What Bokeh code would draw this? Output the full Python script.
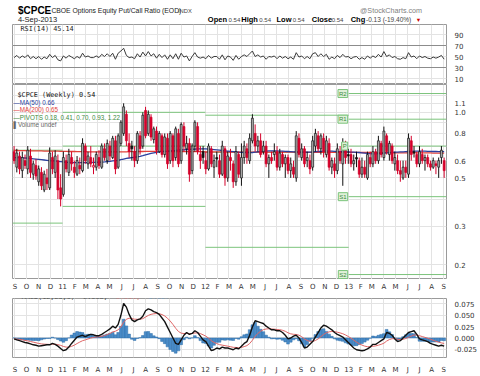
import math
import numpy as np
import pandas as pd
from bokeh.plotting import figure
from bokeh.layouts import column
from bokeh.models import (ColumnDataSource, Range1d, FixedTicker, Label, Span,
                          NumeralTickFormatter, LinearAxis)
from bokeh.embed import file_html
from bokeh.resources import INLINE

# ---------------- data (weekly) ----------------
first_week = "2010-08-30"

opens = [0.66, 0.56, 0.63, 0.54, 0.60, 0.55, 0.63, 0.52, 0.57, 0.48,
         0.53, 0.44, 0.50, 0.45, 0.62, 0.53, 0.60, 0.45, 0.42, 0.60,
         0.53, 0.62, 0.56, 0.52, 0.57, 0.54, 0.70, 0.58, 0.62, 0.56,
         0.56, 0.62, 0.56, 0.68, 0.60, 0.70, 0.62, 0.74, 0.56, 0.72,
         0.80, 0.98, 0.72, 0.70, 0.66, 0.60, 0.78, 0.70, 1.02, 0.80,
         0.95, 0.75, 0.82, 0.66, 0.78, 0.64, 0.76, 0.60, 0.78, 0.62,
         0.80, 0.60, 0.86, 0.68, 0.72, 0.54, 0.70, 0.86, 0.64, 0.66,
         0.60, 0.55, 0.68, 0.56, 0.62, 0.60, 0.52, 0.68, 0.50, 0.62,
         0.58, 0.48, 0.64, 0.50, 0.62, 0.68, 0.60, 0.74, 0.80, 0.70,
         0.74, 0.66, 0.70, 0.58, 0.62, 0.64, 0.66, 0.56, 0.64, 0.58,
         0.62, 0.54, 0.56, 0.50, 0.76, 0.62, 0.68, 0.60, 0.60, 0.56,
         0.70, 0.78, 0.68, 0.76, 0.64, 0.72, 0.56, 0.58, 0.54, 0.66,
         0.58, 0.70, 0.64, 0.64, 0.58, 0.62, 0.60, 0.52, 0.56, 0.50,
         0.62, 0.58, 0.66, 0.60, 0.72, 0.62, 0.78, 0.64, 0.70, 0.58,
         0.60, 0.54, 0.50, 0.56, 0.52, 0.74, 0.66, 0.64, 0.58, 0.64,
         0.60, 0.62, 0.58, 0.56, 0.58, 0.56, 0.62, 0.60]

highs = [0.70, 0.68, 0.66, 0.66, 0.64, 0.70, 0.68, 0.60, 0.61, 0.57,
         0.56, 0.54, 0.55, 0.69, 0.66, 0.67, 0.64, 0.52, 0.66, 0.64,
         0.68, 0.66, 0.60, 0.63, 0.62, 0.76, 0.72, 0.66, 0.70, 0.62,
         0.66, 0.67, 0.72, 0.72, 0.75, 0.74, 0.78, 0.78, 0.80, 0.92,
         1.10, 1.02, 0.80, 0.74, 0.70, 0.82, 0.82, 1.00, 1.06, 1.02,
         0.98, 0.86, 0.86, 0.82, 0.80, 0.80, 0.80, 0.82, 0.80, 0.86,
         0.84, 0.90, 0.90, 0.78, 0.76, 0.72, 0.92, 0.90, 0.70, 0.70,
         0.66, 0.72, 0.70, 0.64, 0.66, 0.64, 0.74, 0.70, 0.66, 0.68,
         0.60, 0.70, 0.66, 0.72, 0.74, 0.72, 0.80, 0.98, 0.88, 0.78,
         0.80, 0.74, 0.74, 0.64, 0.66, 0.72, 0.70, 0.68, 0.66, 0.64,
         0.64, 0.62, 0.60, 0.82, 0.80, 0.72, 0.70, 0.66, 0.64, 0.78,
         0.84, 0.82, 0.80, 0.80, 0.78, 0.76, 0.62, 0.62, 0.72, 0.70,
         0.76, 0.74, 0.68, 0.68, 0.64, 0.66, 0.62, 0.62, 0.60, 0.66,
         0.66, 0.70, 0.68, 0.78, 0.74, 0.86, 0.80, 0.74, 0.72, 0.66,
         0.64, 0.60, 0.60, 0.60, 0.80, 0.78, 0.70, 0.66, 0.70, 0.68,
         0.64, 0.64, 0.60, 0.62, 0.60, 0.62, 0.70, 0.62]

lows = [0.58, 0.53, 0.52, 0.50, 0.55, 0.52, 0.50, 0.49, 0.49, 0.46,
        0.44, 0.43, 0.44, 0.44, 0.52, 0.50, 0.40, 0.37, 0.41, 0.53,
        0.51, 0.54, 0.50, 0.51, 0.52, 0.53, 0.58, 0.55, 0.56, 0.52,
        0.54, 0.55, 0.55, 0.60, 0.58, 0.60, 0.61, 0.52, 0.55, 0.70,
        0.78, 0.70, 0.62, 0.60, 0.56, 0.58, 0.64, 0.68, 0.76, 0.78,
        0.74, 0.72, 0.64, 0.65, 0.62, 0.62, 0.55, 0.58, 0.56, 0.60,
        0.56, 0.58, 0.66, 0.64, 0.48, 0.52, 0.66, 0.64, 0.55, 0.58,
        0.52, 0.54, 0.56, 0.50, 0.56, 0.50, 0.51, 0.46, 0.48, 0.54,
        0.45, 0.46, 0.50, 0.46, 0.58, 0.58, 0.58, 0.72, 0.66, 0.66,
        0.62, 0.64, 0.56, 0.50, 0.58, 0.60, 0.54, 0.54, 0.56, 0.50,
        0.52, 0.50, 0.50, 0.48, 0.62, 0.60, 0.56, 0.56, 0.52, 0.54,
        0.66, 0.66, 0.64, 0.62, 0.62, 0.54, 0.52, 0.50, 0.52, 0.58,
        0.46, 0.58, 0.58, 0.56, 0.54, 0.56, 0.50, 0.50, 0.50, 0.49,
        0.56, 0.56, 0.58, 0.58, 0.62, 0.60, 0.64, 0.60, 0.58, 0.54,
        0.52, 0.48, 0.49, 0.50, 0.50, 0.60, 0.62, 0.56, 0.56, 0.58,
        0.54, 0.56, 0.54, 0.55, 0.52, 0.50, 0.58, 0.50]

closes = [0.60, 0.65, 0.55, 0.62, 0.57, 0.67, 0.53, 0.58, 0.51, 0.55,
          0.46, 0.52, 0.47, 0.65, 0.55, 0.63, 0.44, 0.40, 0.62, 0.55,
          0.64, 0.58, 0.53, 0.60, 0.55, 0.72, 0.60, 0.63, 0.58, 0.57,
          0.64, 0.57, 0.70, 0.62, 0.72, 0.63, 0.76, 0.55, 0.78, 0.90,
          1.06, 0.74, 0.66, 0.68, 0.60, 0.80, 0.68, 0.97, 0.78, 0.98,
          0.77, 0.84, 0.67, 0.80, 0.64, 0.77, 0.58, 0.80, 0.60, 0.84,
          0.58, 0.88, 0.70, 0.72, 0.52, 0.70, 0.90, 0.66, 0.60, 0.62,
          0.55, 0.70, 0.58, 0.60, 0.61, 0.52, 0.70, 0.50, 0.63, 0.60,
          0.48, 0.66, 0.52, 0.62, 0.70, 0.62, 0.76, 0.94, 0.70, 0.74,
          0.64, 0.70, 0.58, 0.62, 0.60, 0.66, 0.56, 0.65, 0.58, 0.62,
          0.54, 0.58, 0.52, 0.78, 0.64, 0.68, 0.58, 0.62, 0.55, 0.74,
          0.80, 0.68, 0.78, 0.66, 0.74, 0.56, 0.60, 0.54, 0.68, 0.60,
          0.72, 0.62, 0.63, 0.58, 0.60, 0.61, 0.52, 0.56, 0.52, 0.64,
          0.58, 0.66, 0.60, 0.74, 0.64, 0.82, 0.66, 0.72, 0.60, 0.62,
          0.54, 0.52, 0.56, 0.53, 0.76, 0.64, 0.65, 0.58, 0.66, 0.60,
          0.62, 0.58, 0.56, 0.60, 0.57, 0.60, 0.67, 0.54]

ma50 = [0.620, 0.620, 0.619, 0.618, 0.617, 0.616, 0.614, 0.612, 0.610, 0.608,
        0.606, 0.604, 0.602, 0.600, 0.599, 0.598, 0.596, 0.594,
        0.592, 0.590, 0.589, 0.588, 0.588, 0.587, 0.587, 0.587, 0.588, 0.588,
        0.589, 0.589, 0.590, 0.590, 0.591, 0.592, 0.594, 0.596, 0.598, 0.600,
        0.602, 0.606,
        0.610, 0.614, 0.617, 0.620, 0.622, 0.625, 0.628, 0.632, 0.638, 0.643,
        0.648, 0.652, 0.655, 0.658, 0.660, 0.662, 0.663, 0.665, 0.667, 0.668,
        0.670, 0.672, 0.673, 0.675, 0.676, 0.677, 0.678, 0.679, 0.680, 0.680,
        0.679, 0.678, 0.676, 0.674, 0.672, 0.670, 0.668, 0.666, 0.664, 0.662,
        0.660, 0.658, 0.656, 0.655, 0.654, 0.653, 0.653, 0.654, 0.656, 0.658,
        0.660, 0.662, 0.664, 0.665, 0.666, 0.666, 0.665, 0.664, 0.663, 0.662,
        0.661, 0.660, 0.659, 0.658, 0.657, 0.656, 0.656, 0.656, 0.657, 0.658,
        0.660, 0.661, 0.662, 0.663, 0.664, 0.664, 0.663, 0.662, 0.661, 0.660,
        0.660, 0.659, 0.658,
        0.657, 0.656, 0.655, 0.654, 0.652, 0.650, 0.648, 0.646, 0.645, 0.645,
        0.646, 0.647, 0.649, 0.651, 0.653, 0.655, 0.656, 0.657, 0.658, 0.659,
        0.660, 0.661, 0.662, 0.663, 0.664, 0.664, 0.664, 0.663, 0.662, 0.662,
        0.661, 0.661, 0.660, 0.660, 0.660]

ma200 = [0.668, 0.668, 0.667, 0.667, 0.667, 0.666, 0.666, 0.666, 0.665, 0.665,
         0.665, 0.664, 0.664, 0.664, 0.663, 0.663, 0.663, 0.662, 0.662, 0.662,
         0.661, 0.661, 0.661, 0.660, 0.660, 0.660, 0.660, 0.659, 0.659, 0.659,
         0.659, 0.658, 0.658, 0.658, 0.658, 0.658, 0.658, 0.658, 0.658, 0.658,
         0.659, 0.659, 0.660, 0.660, 0.660, 0.661, 0.661, 0.661, 0.662, 0.662,
         0.662, 0.662, 0.662, 0.662, 0.662, 0.662, 0.662, 0.661, 0.661, 0.661,
         0.661, 0.661, 0.660, 0.660, 0.660, 0.660, 0.660, 0.660, 0.660, 0.660,
         0.659, 0.659, 0.659, 0.659, 0.658, 0.658, 0.658, 0.658, 0.658, 0.657,
         0.657, 0.657, 0.657, 0.657, 0.657, 0.657, 0.657, 0.657, 0.657, 0.657,
         0.657, 0.657, 0.657, 0.657, 0.657, 0.657, 0.656, 0.656, 0.656, 0.656,
         0.656, 0.656, 0.656, 0.656, 0.656, 0.656, 0.656, 0.655, 0.655, 0.655,
         0.655, 0.655, 0.655, 0.655, 0.655, 0.655, 0.655, 0.655, 0.655, 0.655,
         0.655, 0.655, 0.655, 0.655, 0.655, 0.655, 0.654, 0.654, 0.654, 0.654,
         0.654, 0.653, 0.653, 0.653, 0.653, 0.653, 0.653, 0.653, 0.652, 0.652,
         0.652, 0.652, 0.652, 0.652, 0.652, 0.651, 0.651, 0.651, 0.651, 0.651,
         0.651, 0.651, 0.651, 0.650, 0.650, 0.650, 0.650, 0.650]

rsi14 = [48, 52, 47, 51, 48, 53, 46, 50, 46, 50,
         45, 49, 46, 54, 48, 52, 44, 42, 51, 47,
         52, 49, 46, 50, 47, 56, 49, 51, 48, 48,
         51, 48, 54, 50, 55, 50, 56, 45, 56, 60,
         65, 52, 48, 49, 46, 55, 49, 58, 51, 59,
         51, 55, 47, 54, 48, 53, 45, 53, 46, 55,
         45, 56, 49, 51, 42, 50, 57, 49, 47, 49,
         46, 52, 47, 50, 50, 45, 53, 44, 51, 49,
         43, 52, 45, 50, 53, 50, 55, 60, 50, 53,
         49, 51, 45, 50, 49, 51, 46, 51, 47, 50,
         46, 49, 45, 57, 49, 51, 46, 50, 46, 55,
         57, 50, 55, 50, 54, 45, 49, 46, 52, 48,
         54, 49, 50, 46, 49, 50, 45, 48, 45, 51,
         47, 51, 48, 54, 49, 59, 50, 53, 48, 50,
         46, 45, 48, 46, 57, 49, 51, 46, 51, 48,
         50, 47, 46, 49, 47, 49, 52, 45.14]

macd_line = [-0.002, -0.004, -0.006, -0.008, -0.010, -0.011, -0.013, -0.015, -0.016, -0.018,
             -0.017, -0.016, -0.015, -0.015, -0.012, -0.014, -0.018, -0.023, -0.028, -0.026,
             -0.020, -0.012, -0.005, 0.002, 0.004, 0.006, 0.003, 0.006, 0.008, 0.007,
             0.005, 0.005, 0.008, 0.012, 0.016, 0.020, 0.026, 0.022, 0.030, 0.050,
             0.076, 0.068, 0.052, 0.040, 0.036, 0.040, 0.042, 0.048, 0.060, 0.064,
             0.062, 0.058, 0.056, 0.052, 0.044, 0.036, 0.024, 0.012, 0.000, -0.012,
             -0.014, -0.004, 0.006, 0.012, 0.008, 0.010, 0.016, 0.012, 0.004, -0.004,
             -0.008, -0.018, -0.028, -0.026, -0.022, -0.024, -0.020, -0.022, -0.022, -0.024,
             -0.026, -0.022, -0.024, -0.018, -0.012, -0.008, 0.006, 0.024, 0.038, 0.036,
             0.034, 0.032, 0.026, 0.022, 0.018, 0.018, 0.016, 0.016, 0.012, 0.006,
             -0.002, 0.000, 0.004, 0.006, 0.000, -0.010, -0.022, -0.020, -0.014, -0.008,
             0.002, 0.012, 0.022, 0.028, 0.026, 0.022, 0.018, 0.012, 0.008, 0.005,
             0.002, -0.004, -0.010, -0.016, -0.022, -0.026, -0.027, -0.028, -0.027, -0.024,
             -0.020, -0.014, -0.014, -0.010, -0.006, -0.002, 0.012, 0.010, 0.006, -0.002,
             -0.008, -0.006, 0.000, 0.006, 0.012, 0.014, 0.016, 0.008, -0.002, -0.004,
             -0.006, -0.008, -0.012, -0.014, -0.016, -0.018, -0.016, -0.018]

signal_period = 9

month_labels = ["S", "O", "N", "D", "11", "F", "M", "A", "M", "J", "J", "A",
                "S", "O", "N", "D", "12", "F", "M", "A", "M", "J", "J", "A",
                "S", "O", "N", "D", "13", "F", "M", "A", "M", "J", "J", "A", "S"]
first_month = "2010-09-01"

nan = float("nan")
pivot_starts = ["2010-08-26", "2011-01-01", "2012-01-01", "2013-01-01"]
pivot_ends = ["2011-01-01", "2012-01-01", "2013-01-01", "2013-09-08"]
pivot_r2 = [nan, nan, nan, 1.22]
pivot_r1 = [nan, 1.00, 0.97, 0.93]
pivot_p = [0.67, 0.70, 0.655, 0.70]
pivot_s1 = [0.31, 0.37, 0.24, 0.41]
pivot_s2 = [nan, nan, nan, 0.18]

rsi_ticks = [10, 30, 50, 70, 90]
price_ticks = [0.2, 0.3, 0.5, 0.6, 0.8, 1.0, 1.1]
price_grid = [0.2, 0.3, 0.4, 0.5, 0.6, 0.7, 0.8, 0.9, 1.0, 1.1, 1.2]
macd_ticks = [-0.025, 0.0, 0.025, 0.050, 0.075]

# ---------------- checks ----------------
n = len(closes)
for nm, arr in [("opens", opens), ("highs", highs), ("lows", lows), ("ma50", ma50),
                ("ma200", ma200), ("rsi14", rsi14), ("macd_line", macd_line)]:
    if len(arr) != n:
        raise ValueError(f"{nm} has {len(arr)} values, expected {n}")

def ms(s):
    return pd.Timestamp(s).timestamp() * 1000.0

DAY = 86400000.0
dates = pd.date_range(first_week, periods=n, freq="W-MON")
xs = [d.timestamp() * 1000.0 for d in dates]
month_ticks = [d.timestamp() * 1000.0 for d in pd.date_range(first_month, periods=len(month_labels), freq="MS")]
x_start, x_end = ms("2010-08-26"), ms("2013-09-08")
year_ticks = [t for t, lab in zip(month_ticks, month_labels) if len(lab) == 2]
year_labels = [lab for lab in month_labels if len(lab) == 2]

# candle colouring (close vs previous close, hollow when close > open)
prev = [opens[0]] + closes[:-1]
fills, lines = [], []
for o, c, pc in zip(opens, closes, prev):
    if c >= pc:
        lines.append("#111111")
        fills.append("#b3b3b3" if c > o else "#111111")
    else:
        lines.append("#d4002a")
        fills.append("#f2a2b4" if c > o else "#d4002a")

candles = ColumnDataSource(dict(
    x=xs, high=highs, low=lows,
    top=[max(o, c) for o, c in zip(opens, closes)],
    bottom=[min(o, c) for o, c in zip(opens, closes)],
    fill=fills, line=lines, ma50=ma50, ma200=ma200, rsi=rsi14))

# MACD signal (9-period EMA of MACD) and histogram
alpha = 2.0 / (signal_period + 1)
signal = []
for i, m in enumerate(macd_line):
    signal.append(m if i == 0 else alpha * m + (1 - alpha) * signal[-1])
hist = [m - s for m, s in zip(macd_line, signal)]
macd_src = ColumnDataSource(dict(x=xs, macd=macd_line, signal=signal, hist=hist))

# ---------------- layout constants ----------------
W = 480
FONT = "Liberation Sans"
MONO = "DejaVu Sans Mono"
GRID = "#e3e3e3"
OUTLINE = "#9a9a9a"
LABEL_OVERRIDES = {t: lab for t, lab in zip(month_ticks, month_labels)}

def style_axis(ax):
    ax.axis_line_color = None
    ax.major_tick_line_color = None
    ax.minor_tick_line_color = None
    ax.major_label_text_font_size = "7px"
    ax.major_label_text_font = "DejaVu Sans"
    ax.major_label_text_color = "#333333"
    ax.major_label_standoff = 2

def style_xaxis(ax):
    style_axis(ax)
    ax.ticker = FixedTicker(ticks=month_ticks)
    ax.major_label_overrides = LABEL_OVERRIDES

def base_fig(height, y_range, y_type="linear", xloc=None, top=0, bottom=0):
    p = figure(width=W, height=height, x_range=Range1d(x_start, x_end), y_range=y_range,
               y_axis_type=y_type, y_axis_location="right", x_axis_location=xloc,
               toolbar_location=None, output_backend="svg",
               min_border_left=12, min_border_right=32, min_border_top=top,
               min_border_bottom=bottom, background_fill_color="white",
               border_fill_color="white", outline_line_color=OUTLINE)
    for ax in p.yaxis:
        style_axis(ax)
    for ax in p.xaxis:
        style_xaxis(ax)
    p.xgrid.ticker = FixedTicker(ticks=month_ticks)
    p.xgrid.grid_line_color = GRID
    p.ygrid.grid_line_color = GRID
    return p

def tag(p, y, text, color, fill="white", bold=False):
    p.add_layout(Label(x=x_end, y=y, x_offset=3, text=text, text_font=FONT,
                       text_font_size="7px", text_color=color, text_baseline="middle",
                       text_font_style="bold" if bold else "normal",
                       background_fill_color=fill, border_line_color=color,
                       border_line_width=1, padding=1))

def slabel(p, x, y, text, color="#222222", font=FONT, size="7px", style="normal", align="left"):
    p.add_layout(Label(x=x, y=y, x_units="screen", y_units="screen", text=text,
                       text_font=font, text_font_size=size, text_color=color,
                       text_font_style=style, text_baseline="middle", text_align=align))

# ---------------- header ----------------
HH = 24
hdr = figure(width=W, height=HH, x_range=Range1d(0, W), y_range=Range1d(0, HH),
             toolbar_location=None, output_backend="svg", min_border=0,
             x_axis_location=None, y_axis_location=None, outline_line_color=None)
hdr.grid.visible = False
hdr_items = [
    (6, 10, "$CPCE", "10px", "bold", "#000000", "left"),
    (43, 10, "CBOE Options Equity Put/Call Ratio (EOD)", "6.8px", "normal", "#222222", "left"),
    (183, 10, "INDX", "5.8px", "normal", "#444444", "left"),
    (6, 19, "4-Sep-2013", "7.5px", "normal", "#222222", "left"),
    (453, 10, "@StockCharts.com", "7.2px", "normal", "#808080", "right"),
    (216, 19, "Open", "7.5px", "bold", "#000000", "left"),
    (239, 19, "0.54", "6px", "normal", "#444444", "left"),
    (253, 19, "High", "7.5px", "bold", "#000000", "left"),
    (273, 19, "0.54", "6px", "normal", "#444444", "left"),
    (292, 19, "Low", "7.5px", "bold", "#000000", "left"),
    (310, 19, "0.54", "6px", "normal", "#444444", "left"),
    (331, 19, "Close", "7.5px", "bold", "#000000", "left"),
    (353, 19, "0.54", "6px", "normal", "#444444", "left"),
    (374, 19, "Chg", "7.5px", "bold", "#000000", "left"),
    (391, 19, "-0.13 (-19.40%)", "6.5px", "normal", "#444444", "left"),
    (446, 19, "\u25bc", "5.5px", "normal", "#cc0000", "left"),
]
for x, y, t, fs, st, col, al in hdr_items:
    hdr.add_layout(Label(x=x, y=HH - y, text=t, text_font=FONT, text_font_size=fs,
                         text_font_style=st, text_color=col, text_baseline="middle",
                         text_align=al))

# ---------------- RSI panel ----------------
rsi_fig = base_fig(60, Range1d(-0.9, 108.2))
rsi_fig.yaxis.ticker = FixedTicker(ticks=rsi_ticks)
for lvl in (70, 30):
    rsi_fig.add_layout(Span(location=lvl, dimension="width", line_color="#8c8c8c", line_width=1))
rsi_fig.line("x", "rsi", source=candles, line_color="#3a3a3a", line_width=1)
slabel(rsi_fig, 8, 55.6, "RSI(14) 45.14", font=MONO, size="6.8px")
tag(rsi_fig, rsi14[-1], "45.14", "#222222")

# ---------------- price panel ----------------
MAIN_H = 195
main = base_fig(MAIN_H, Range1d(0.1708, 1.342), y_type="log")
main.yaxis.ticker = FixedTicker(ticks=price_ticks)
main.yaxis.formatter = NumeralTickFormatter(format="0.0")
main.ygrid.ticker = FixedTicker(ticks=price_grid)
x0s = [ms(s) for s in pivot_starts]
x1s = [ms(s) for s in pivot_ends]
for lv in (pivot_r2, pivot_r1, pivot_p, pivot_s1, pivot_s2):
    pts = [(a, b, v) for a, b, v in zip(x0s, x1s, lv) if not math.isnan(v)]
    main.segment(x0=[p[0] for p in pts], x1=[p[1] for p in pts],
                 y0=[p[2] for p in pts], y1=[p[2] for p in pts],
                 line_color="#7cc47c", line_width=1)
main.line("x", "ma200", source=candles, line_color="#e2413a", line_width=1.3)
main.line("x", "ma50", source=candles, line_color="#2b3f9e", line_width=1.3)
main.segment(x0="x", x1="x", y0="high", y1="low", source=candles, line_color="line", line_width=1)
main.vbar(x="x", width=5 * DAY, top="top", bottom="bottom", source=candles,
          fill_color="fill", line_color="line", line_width=0.7)

# pivot names at the start of the 2013 segment
for v, nm in zip([pivot_r2[3], pivot_r1[3], pivot_p[3], pivot_s1[3], pivot_s2[3]],
                 ["R2", "R1", "P", "S1", "S2"]):
    main.add_layout(Label(x=x0s[3], y=v, x_offset=-1, text=nm, text_font=FONT,
                          text_font_size="6px", text_color="#3d8a3d", text_baseline="middle",
                          text_align="right", background_fill_color="#dff0d8",
                          border_line_color="#7cc47c", padding=1))
# right-hand value tags
for v in (pivot_r2[3], pivot_r1[3], pivot_s1[3], pivot_s2[3]):
    tag(main, v, f"{v:.2f}", "#3d8a3d", fill="#eef7ea")
tag(main, ma200[-1], "0.65", "#e2413a")
tag(main, ma50[-1], "0.66", "#2b3f9e")
tag(main, pivot_p[3], "0.70", "#3d8a3d", fill="#eef7ea")
tag(main, closes[-1], "0.54", "#000000", bold=True)

slabel(main, 5, MAIN_H - 10.3, "$CPCE (Weekly) 0.54", font=MONO, size="6.8px", color="#111111")
slabel(main, 1, MAIN_H - 17.7, "\u2014MA(50) 0.66", size="6.3px", color="#2b3f9e")
slabel(main, 1, MAIN_H - 25.0, "\u2014MA(200) 0.65", size="6.3px", color="#e2413a")
slabel(main, 1, MAIN_H - 32.7, "\u2014PIVOTS 0.18, 0.41, 0.70, 0.93, 1.22", size="6.3px", color="#3d8a3d")
slabel(main, 1, MAIN_H - 40.0, "\u258cVolume undef", size="6.3px", color="#666666")

# ---------------- MACD panel (month labels above and below) ----------------
MACD_FRAME = 65
macd_lo, macd_hi = -0.043, 0.087
macd_fig = base_fig(97, Range1d(macd_lo, macd_hi), xloc="above", top=13, bottom=19)
below_axis = LinearAxis()
style_xaxis(below_axis)
macd_fig.add_layout(below_axis, "below")
macd_fig.yaxis.ticker = FixedTicker(ticks=macd_ticks)
macd_fig.yaxis.formatter = NumeralTickFormatter(format="0.000")
macd_fig.vbar(x="x", width=7 * DAY, top="hist", bottom=0, source=macd_src,
              fill_color="#4a8cc9", line_color="#2f6ea8", line_width=0.5)
macd_fig.line("x", "signal", source=macd_src, line_color="#e06666", line_width=1)
macd_fig.line("x", "macd", source=macd_src, line_color="#111111", line_width=1.4)
tag(macd_fig, hist[-1], "-0.007", "#3d7fbf")
tag(macd_fig, signal[-1], "-0.011", "#e06666")
tag(macd_fig, macd_line[-1], "-0.018", "#111111")
cw = 6.8 * 0.602
ly = MACD_FRAME - 4
slabel(macd_fig, 1.0, ly, "\u2014 MACD(12,26,9) -0.018, ", font=MONO, size="6.8px", color="#111111")
slabel(macd_fig, 1.0 + 24 * cw, ly, "-0.011, ", font=MONO, size="6.8px", color="#e06666")
slabel(macd_fig, 1.0 + 32 * cw, ly, "-0.007", font=MONO, size="6.8px", color="#5b9bd5")

# bold year labels drawn over the month scales (outside the frame, pixel offsets)
for t, lab in zip(year_ticks, year_labels):
    for yv, off in ((macd_hi, 6.5), (macd_lo, -6.5)):
        macd_fig.add_layout(Label(x=t, y=yv, y_offset=off, text=lab, text_font="DejaVu Sans",
                                  text_font_size="7.5px", text_font_style="bold",
                                  text_color="#111111", text_align="center",
                                  text_baseline="middle"))

layout = column(hdr, rsi_fig, main, macd_fig, spacing=0)
open("out.html", "w").write(file_html(layout, INLINE))
